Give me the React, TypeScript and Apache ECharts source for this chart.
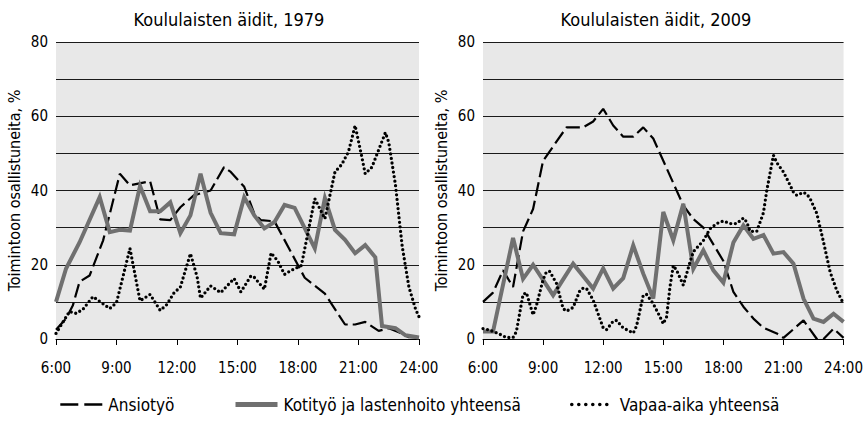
import React, { useEffect, useRef } from 'react';
import * as echarts from 'echarts';

const legendNames = ['Ansiotyö', 'Kotityö ja lastenhoito yhteensä', 'Vapaa-aika yhteensä'];
const panelTitles = ['Koululaisten äidit, 1979', 'Koululaisten äidit, 2009'];
const yAxisName = 'Toimintoon osallistuneita, %';
const hourTicks = [6, 9, 12, 15, 18, 21, 24];

// 1979 — Ansiotyö
const ansio1979T = ['6:00','6:30','6:50','7:10','7:40','8:20','9:10','9:40','10:40','11:10','11:40','12:10','12:50','13:40','14:20','14:40','15:20','15:50','16:10','16:50','18:20','19:20','20:20','20:50','21:20','22:00','22:30','23:00','23:30','24:00'];
const ansio1979V = [2.5,5.5,9,15.4,17.1,26.5,44.5,41.4,42.5,32.2,32,35.5,38.7,40,46.3,45,41,33.8,32,31.7,16.5,12.2,3.9,3.9,4.6,2.2,2.9,1.8,0.5,0.4];

// 1979 — Kotityö ja lastenhoito yhteensä
const koti1979T = ['6:00','6:30','7:10','8:10','8:40','9:10','9:40','10:10','10:40','11:10','11:40','12:10','12:40','13:10','13:40','14:10','14:50','15:20','15:50','16:20','16:50','17:20','17:50','18:50','19:20','19:50','20:20','20:50','21:20','21:50','22:10','22:50','23:20','24:00'];
const koti1979V = [10,19,26,38.2,28.8,29.4,29.2,41.2,34.4,34.4,36.8,28.5,33.3,44.5,34,28.5,28.2,38.2,33.3,29.8,31.5,36.1,35.3,24.4,37.9,29.4,26.7,23.1,25.3,22,3.5,2.9,1.0,0.4];

// 1979 — Vapaa-aika yhteensä
const vapaa1979T = ['6:00','6:40','7:00','7:20','7:50','8:40','9:00','9:40','10:10','10:40','11:10','11:30','11:50','12:10','12:30','12:40','13:00','13:10','13:40','14:10','14:50','15:10','15:40','15:50','16:20','16:40','17:00','17:20','17:40','18:10','18:50','19:00','19:20','19:50','20:10','20:30','20:50','21:10','21:20','21:40','22:20','22:30','22:50','23:10','23:30','23:50','24:00'];
const vapaa1979V = [1.5,7.4,6.9,8,11.4,8.2,9.8,24.4,10.3,12,7.7,9.3,12.3,14,20,23,16.7,11,14.3,12.5,16.3,12.7,17,16.6,13.4,23.2,21,17.4,18.5,19.8,37.8,36,32.4,45,47,50.4,57.5,49,44.5,46.3,55.6,53,41.5,25,14,8,6];

// 2009 — Ansiotyö
const ansio2009T = ['6:00','6:30','7:00','7:30','8:00','8:30','9:00','10:10','11:00','11:30','12:00','12:30','13:00','13:30','14:00','14:30','16:00','16:30','17:00','17:30','18:00','18:30','19:00','19:30','20:00','20:40','21:00','22:00','22:40','23:00','23:30','24:00'];
const ansio2009V = [10,12.5,18.5,14,29,35,48,57,57,58.6,62,57.5,54.5,54.5,57,54,36,32.3,30,25.5,21,12.7,8.7,5.5,3,1.5,0.3,5,0,0,2.8,0.3];

// 2009 — Kotityö ja lastenhoito yhteensä
const koti2009T = ['6:00','6:30','7:30','8:00','8:30','9:30','10:30','11:30','12:00','12:30','13:00','13:30','14:00','14:30','15:00','15:30','16:00','16:30','17:00','17:30','18:00','18:30','19:00','19:30','20:00','20:30','21:00','21:30','22:00','22:30','23:00','23:30','24:00'];
const koti2009V = [2,2,27.2,16.2,20,11.8,20.3,13.6,19,13.6,16.4,25.2,17.6,10.9,34.2,26.6,36.4,18.9,23.9,18.5,15.2,26,30.6,27,28,23,23.4,20.3,10.9,5.5,4.6,6.8,4.6];

// 2009 — Vapaa-aika yhteensä
const vapaa2009T = ['6:00','6:20','6:50','7:10','7:30','7:40','8:00','8:10','8:30','8:40','9:00','9:10','9:20','9:40','10:00','10:10','10:30','10:50','11:00','11:10','11:30','11:50','12:00','12:10','12:30','12:40','13:00','13:30','13:40','14:00','14:10','14:30','14:50','15:00','15:10','15:20','15:30','15:40','16:00','16:20','16:30','17:00','17:20','17:40','18:00','18:20','18:40','19:00','19:10','19:20','19:40','20:00','20:10','20:30','20:40','21:00','21:20','21:30','21:40','22:00','22:10','22:20','22:40','23:00','23:20','23:40','24:00'];
const vapaa2009V = [2.8,2.4,1.3,0.4,0.4,2,12,12.5,6.5,9,16,18.1,18.2,15,8.2,7.5,8.5,13,13.7,13.6,10.5,5.5,3,2.5,4.8,5,3,1.6,3.5,11.8,12,9.5,6,4.1,6,14,19.8,18.5,14.5,20.7,23.5,26.5,29.7,31.1,31.8,31.1,31.1,32.6,31.5,29,29,34,40,49.5,47.5,45,41.4,39.5,38.7,39.5,39,37.8,33.8,26.1,18,13,9.5];

const FONT = '"Liberation Sans Narrow", "DejaVu Sans Condensed", Lato, sans-serif';

const toHours = (s: string) => {
  const [h, m] = s.split(':').map(Number);
  return h + m / 60;
};
const pairs = (t: string[], v: number[]) => t.map((s, i) => [toHours(s), v[i]]);

const panels = [
  { ansio: pairs(ansio1979T, ansio1979V), koti: pairs(koti1979T, koti1979V), vapaa: pairs(vapaa1979T, vapaa1979V) },
  { ansio: pairs(ansio2009T, ansio2009V), koti: pairs(koti2009T, koti2009V), vapaa: pairs(vapaa2009T, vapaa2009V) },
];

const gridLefts = [56, 483];
const titleCenters = [224, 651];
const legendLefts = [54, 228, 565];

const lineStyles = [
  { color: '#000', width: 2.2, type: [14, 5] },
  { color: '#707070', width: 4, join: 'miter' },
  { color: '#000', width: 3.3, type: [0, 4.6], cap: 'round' },
];
const legendLineStyles = [
  { color: '#000', width: 2.6, type: [18, 6] },
  { color: '#707070', width: 5 },
  { color: '#000', width: 3.6, type: [0, 7], cap: 'round' },
];

export default function App() {
  const ref = useRef<HTMLDivElement>(null);
  useEffect(() => {
    if (!ref.current) return;
    const chart = echarts.init(ref.current, undefined, { renderer: 'svg' });
    const textBase = { fontFamily: FONT, fontSize: 15, color: '#000' };
    const series: any[] = [];
    panels.forEach((p, i) => {
      [p.ansio, p.koti, p.vapaa].forEach((d, k) => {
        series.push({
          name: legendNames[k], type: 'line', xAxisIndex: i, yAxisIndex: i, data: d,
          symbol: 'none', z: 2 + k,
          lineStyle: lineStyles[k],
          itemStyle: { color: lineStyles[k].color },
        });
      });
    });
    chart.setOption({
      animation: false,
      backgroundColor: '#fff',
      textStyle: { fontFamily: FONT },
      title: panelTitles.map((t, i) => ({
        text: t, left: titleCenters[i], top: 5, textAlign: 'center',
        textStyle: { ...textBase, fontWeight: 'normal', fontSize: 18 },
      })),
      legend: legendNames.map((n, i) => ({
        data: [n], left: legendLefts[i], top: 391, itemWidth: 42, itemHeight: 14,
        itemStyle: { opacity: 0 },
        lineStyle: legendLineStyles[i],
        textStyle: { ...textBase, fontSize: 17, padding: [0, 0, 0, 1] },
      })),
      grid: gridLefts.map((l) => ({
        left: l, top: 42, width: 363, height: 297, show: true, backgroundColor: '#e8e8e8', borderWidth: 0,
      })),
      xAxis: gridLefts.map((_, i) => ({
        type: 'value', gridIndex: i, min: hourTicks[0], max: hourTicks[hourTicks.length - 1], interval: 3,
        axisLine: { show: true, lineStyle: { color: '#000', width: 1 } },
        axisTick: { show: true, length: 6, lineStyle: { color: '#000' } },
        axisLabel: { ...textBase, margin: 21, formatter: (v: number) => `${v}:00` },
        splitLine: { show: false },
      })),
      yAxis: gridLefts.map((_, i) => ({
        type: 'value', gridIndex: i, min: 0, max: 80, interval: 10,
        name: yAxisName, nameLocation: 'middle', nameGap: 34,
        nameTextStyle: { ...textBase, fontSize: 16 },
        axisLine: { show: false }, axisTick: { show: false },
        axisLabel: { ...textBase, margin: 8, formatter: (v: number) => (v % 20 === 0 ? String(v) : '') },
        splitLine: { show: true, lineStyle: { color: '#1a1a1a', width: 1 } },
      })),
      series,
    });
    return () => chart.dispose();
  }, []);
  return <div ref={ref} style={{ position: 'fixed', left: 0, top: 0, width: 866, height: 427 }} />;
}
